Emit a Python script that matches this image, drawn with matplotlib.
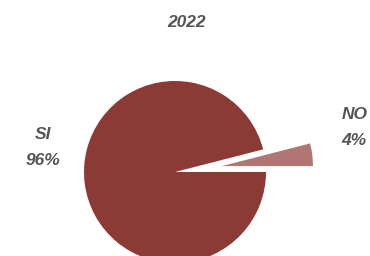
import matplotlib
matplotlib.use('Agg')
import matplotlib.pyplot as plt

labels = ['NO', 'SI']
values = [4, 96]
colors = ['#B07674', '#8B3A36']
explode = [0.52, 0]
title = '2022'

text_color = '#555555'
plt.rcParams['font.family'] = ['Liberation Sans', 'DejaVu Sans']

fig = plt.figure(figsize = (3.7, 2.56), dpi = 100)
ax = fig.add_axes([0, 0, 1, 1])

ax.pie(values, colors = colors, explode = explode, startangle = 0,
	counterclock = True, radius = 1, wedgeprops = {'linewidth': 0})

# pixel layout: centre at (175, 172), radius 91 px
ax.set_xlim(-175 / 91, 195 / 91)
ax.set_ylim(-84 / 91, 172 / 91)
ax.set_aspect('auto')
ax.axis('off')

label_pos = {'NO': (1.97, 0.49), 'SI': (-1.45, 0.27)}
for lab, val in zip(labels, values):
	x, y = label_pos[lab]
	ax.text(x, y, lab + '\n' + str(val) + '%', ha = 'center', va = 'center',
		fontsize = 12.5, fontweight = 'bold', fontstyle = 'italic',
		color = text_color, linespacing = 1.9)

fig.text(0.505, 0.912, title, ha = 'center', va = 'center', fontsize = 12.5,
	fontweight = 'bold', fontstyle = 'italic', color = text_color)

fig.savefig('out.png', dpi = 100)
